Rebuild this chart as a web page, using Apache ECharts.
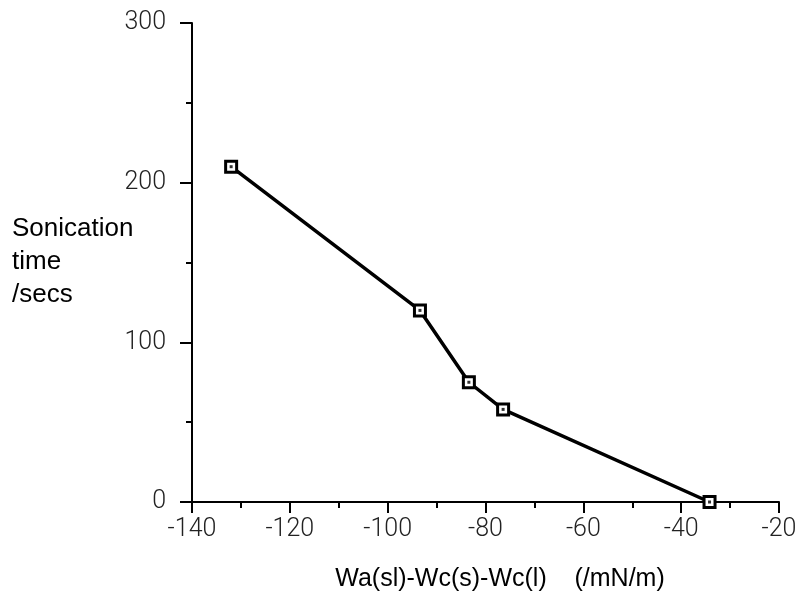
<!DOCTYPE html>
<html>
<head>
<meta charset="utf-8">
<script src="https://cdn.jsdelivr.net/npm/echarts@6/dist/echarts.min.js"></script>
<style>
    html, body { margin: 0; padding: 0; background: #fff; }
    #chart { width: 804px; height: 599px; }
</style>
</head>
<body>
<div id="chart"></div>
<script>
    // work of adhesion term (mN/m) vs sonication time (s)
    var workTerm = [-132, -93.4, -83.4, -76.4, -34.2];
    var sonTime = [210, 120, 75, 58, 0];

    var xName = 'Wa(sl)-Wc(s)-Wc(l)    (/mN/m)';
    var yName = 'Sonication\ntime\n/secs';

    var pts = workTerm.map(function (x, i) { return [x, sonTime[i]]; });

    var chart = echarts.init(document.getElementById('chart'));
    var labelFont = { color: '#222', fontSize: 25, fontFamily: 'Roboto', fontWeight: 300 };

    option = {
        backgroundColor: '#fff',
        animation: false,
        // y axis title sits left of the labels, as in the original figure
        title: {
            text: yName,
            left: 12,
            top: 212,
            padding: 0,
            textStyle: { color: '#000', fontSize: 26, fontWeight: 'normal', fontFamily: 'Liberation Sans', lineHeight: 33 }
        },
        grid: { left: 192, right: 25, top: 23, bottom: 97, containLabel: false, outerBoundsMode: 'none' },
        xAxis: {
            type: 'value',
            min: -140, max: -20, interval: 20,
            name: xName,
            nameLocation: 'middle',
            nameGap: 65,
            nameTextStyle: { color: '#000', fontSize: 25, fontFamily: 'Liberation Sans', padding: [0, 0, 0, 29] },
            axisLine: { onZero: false, lineStyle: { color: '#000', width: 2 } },
            axisTick: { inside: false, length: 11, lineStyle: { color: '#000', width: 2 } },
            minorTick: { show: true, splitNumber: 2, length: 6, lineStyle: { color: '#000', width: 2 } },
            axisLabel: Object.assign({ margin: 15 }, labelFont),
            splitLine: { show: false }
        },
        yAxis: {
            type: 'value',
            min: 0, max: 300, interval: 100,
            axisLine: { onZero: false, lineStyle: { color: '#000', width: 2 } },
            axisTick: { inside: false, length: 12, lineStyle: { color: '#000', width: 2 } },
            minorTick: { show: true, splitNumber: 2, length: 6, lineStyle: { color: '#000', width: 2 } },
            axisLabel: Object.assign({ margin: 26 }, labelFont),
            splitLine: { show: false }
        },
        series: [
            {
                type: 'line',
                data: pts,
                lineStyle: { color: '#000', width: 3.5 },
                symbol: 'rect',
                symbolSize: 11,
                itemStyle: { color: '#fff', borderColor: '#000', borderWidth: 3 },
                z: 2
            },
            {
                // center dot inside each square marker
                type: 'scatter',
                data: pts,
                symbol: 'rect',
                symbolSize: 3,
                itemStyle: { color: '#000' },
                z: 3
            }
        ]
    };
    chart.setOption(option);
</script>
</body>
</html>
